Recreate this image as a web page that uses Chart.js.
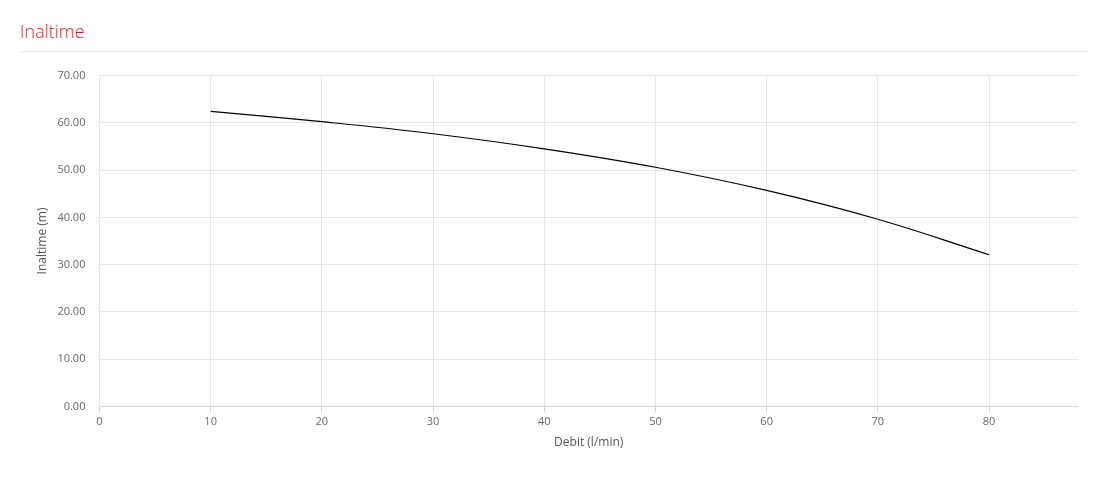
<!DOCTYPE html>
<html>
<head>
<meta charset="utf-8">
<script src="https://cdn.jsdelivr.net/npm/chart.js@4"></script>
<style>
  body { margin: 0; background: #fff; font-family: "Open Sans", sans-serif; }
  .header { position: absolute; left: 20px; top: 0; width: 1068px; height: 51px; border-bottom: 1px solid #ebebeb; }
  .header h2 { margin: 0; position: absolute; top: 19px; left: 0; font-size: 18px; font-weight: 300; color: #d81e28; }
  .wrap { position: absolute; left: 20px; top: 55px; width: 1068px; height: 399px; }
</style>
</head>
<body>
<div class="header"><h2>Inaltime</h2></div>
<div class="wrap"><canvas id="pumpChart"></canvas></div>
<script>
    // Debit (l/min) vs inaltime (m)
    const debit = [10, 20, 30, 40, 50, 60, 70, 80];
    const inaltime = [62.45, 60.25, 57.7, 54.5, 50.6, 45.7, 39.6, 32.1];

    const ctx = document.getElementById('pumpChart').getContext('2d');

    new Chart(ctx, {
        type: 'line',
        data: {
            datasets: [{
                label: 'Inaltime',
                data: debit.map((q, i) => ({ x: q, y: inaltime[i] })),
                borderColor: '#000',
                borderWidth: 1.2,
                pointRadius: 0,
                tension: 0.4,
                fill: false
            }]
        },
        options: {
            responsive: true,
            maintainAspectRatio: false,
            animation: false,
            layout: { padding: { top: 5, right: 10, bottom: 0, left: 11 } },
            plugins: {
                legend: { display: false },
                tooltip: { enabled: false }
            },
            scales: {
                x: {
                    type: 'linear',
                    min: 0,
                    max: 88,
                    ticks: { stepSize: 10, includeBounds: false, color: '#666', font: { family: 'Open Sans', size: 11 } },
                    grid: { color: '#e6e6e6', tickColor: '#ccd6eb', tickLength: 6 },
                    border: { color: '#ccd6eb' },
                    title: { display: true, text: 'Debit (l/min)', color: '#555', font: { family: 'Open Sans', size: 12 } }
                },
                y: {
                    min: 0,
                    max: 70,
                    ticks: {
                        stepSize: 10,
                        padding: 14,
                        color: '#666',
                        font: { family: 'Open Sans', size: 11 },
                        callback: v => v.toFixed(2)
                    },
                    grid: { color: '#e6e6e6', drawTicks: false },
                    border: { color: '#e6e6e6' },
                    title: { display: true, text: 'Inaltime (m)', color: '#555', font: { family: 'Open Sans', size: 12 }, padding: { top: 4, bottom: -6 } }
                }
            }
        }
    });
</script>
</body>
</html>
